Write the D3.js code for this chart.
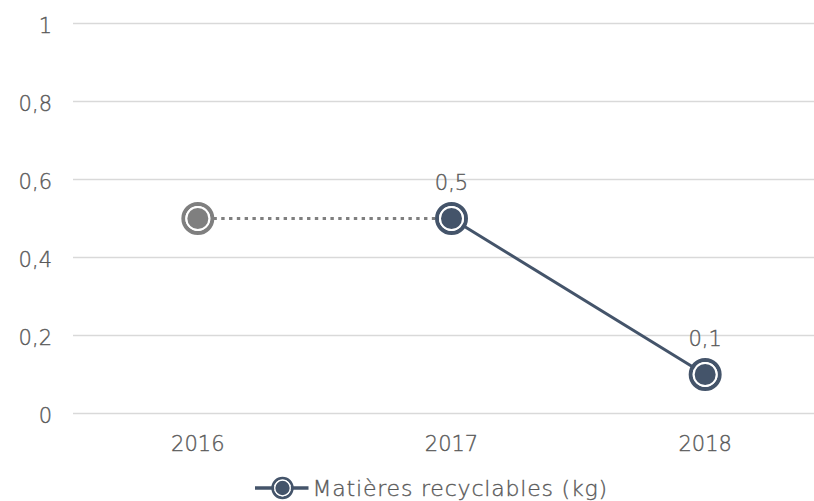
<!DOCTYPE html>
<html>
<head>
<meta charset="utf-8">
<script src="https://cdn.jsdelivr.net/npm/d3@7"></script>
<style>
  body { margin: 0; background: #fff; }
  svg text { font-family: "DejaVu Sans", sans-serif; font-weight: 200; fill: #595959; stroke: #595959; stroke-width: 0.35px; }
</style>
</head>
<body>
<svg></svg>
<script>
const WIDTH = 814
const HEIGHT = 501
const years = ['2016', '2017', '2018']
const values = [0.5, 0.5, 0.1]
const shownLabels = [false, true, true]
const estimated = [true, false, false]
const yTicks = [0, 0.2, 0.4, 0.6, 0.8, 1]
const seriesName = 'Matières recyclables (kg)'

const MAIN = '#44546a'
const GREY = '#7f7f7f'
const fmt = v => String(v).replace('.', ',')

const svg = d3.select('svg')
  .attr('width', WIDTH)
  .attr('height', HEIGHT)

const x = d3.scaleBand()
  .domain(years)
  .range([71, 832])
const y = d3.scaleLinear()
  .domain([0, 1])
  .range([413.5, 23.5])

// gridlines
svg.append('g')
  .selectAll('line')
  .data(yTicks)
  .enter().append('line')
  .attr('x1', 73)
  .attr('x2', WIDTH)
  .attr('y1', d => y(d))
  .attr('y2', d => y(d))
  .attr('stroke', '#d9d9d9')
  .attr('stroke-width', 1.3)

// y axis labels
const yAxis = svg.append('g')
  .attr('transform', 'translate(52,0)')
  .call(d3.axisLeft(y).tickValues(yTicks).tickFormat(fmt).tickSize(0).tickPadding(0))
yAxis.select('.domain').remove()
yAxis.selectAll('text')
  .attr('font-size', 21)
  .attr('dy', '0.45em')

// x axis labels
const xAxis = svg.append('g')
  .attr('transform', 'translate(0,413.5)')
  .call(d3.axisBottom(x).tickSize(0).tickPadding(23))
xAxis.select('.domain').remove()
xAxis.selectAll('text')
  .attr('font-size', 21)

const cx = d => x(d) + x.bandwidth() / 2
const pts = years.map((yr, i) => ({ yr, v: values[i], est: estimated[i], lab: shownLabels[i] }))

// segments
const segs = d3.pairs(pts)
svg.append('g')
  .selectAll('line')
  .data(segs)
  .enter().append('line')
  .attr('x1', d => cx(d[0].yr))
  .attr('y1', d => y(d[0].v))
  .attr('x2', d => cx(d[1].yr))
  .attr('y2', d => y(d[1].v))
  .attr('stroke', d => d[0].est ? GREY : MAIN)
  .attr('stroke-width', 3)
  .attr('stroke-dasharray', d => d[0].est ? '3.4,4.4' : null)

function marker(g, color, s) {
  g.append('circle')
    .attr('r', 14.5 * s)
    .attr('fill', 'none')
    .attr('stroke', color)
    .attr('stroke-width', 4 * s)
  g.append('circle')
    .attr('r', 11.5 * s)
    .attr('fill', color)
    .attr('stroke', '#fff')
    .attr('stroke-width', 2 * s)
}

svg.append('g')
  .selectAll('g')
  .data(pts)
  .enter().append('g')
  .attr('transform', d => `translate(${cx(d.yr)},${y(d.v)})`)
  .each(function (d) { marker(d3.select(this), d.est ? GREY : MAIN, 1) })

// data labels
svg.append('g')
  .selectAll('text')
  .data(pts.filter(d => d.lab))
  .enter().append('text')
  .attr('x', d => cx(d.yr))
  .attr('y', d => y(d.v) - 37)
  .attr('dy', '0.4em')
  .attr('text-anchor', 'middle')
  .attr('font-size', 21)
  .text(d => fmt(d.v))

// legend
const lg = svg.append('g').attr('transform', 'translate(282.5,488)')
lg.append('line')
  .attr('x1', -27.5).attr('x2', 26)
  .attr('stroke', MAIN).attr('stroke-width', 3.5)
marker(lg, MAIN, 0.68)
lg.append('text')
  .attr('x', 30)
  .attr('dy', '0.38em')
  .attr('font-size', 22)
  .attr('letter-spacing', 0.8)
  .text(seriesName)
</script>
</body>
</html>
